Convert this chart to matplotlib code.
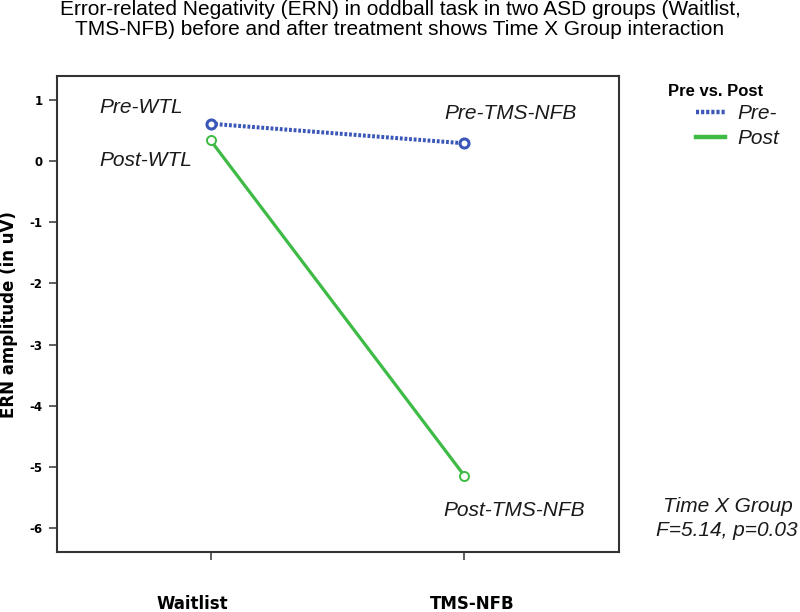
import matplotlib.pyplot as plt
from matplotlib.transforms import blended_transform_factory

# ERN amplitude means
groups = ['Waitlist', 'TMS-NFB']
pre_vals = [0.61, 0.29]
post_vals = [0.34, -5.14]
series_labels = ['Pre-', 'Post']
yticks = [-6, -5, -4, -3, -2, -1, 0, 1]

title_lines = ['Error-related Negativity (ERN) in oddball task in two ASD groups (Waitlist,',
               'TMS-NFB) before and after treatment shows Time X Group interaction']

BLUE = '#3a56b8'
GREEN = '#3dbb45'
INK = '#1a1a1a'

plt.rcParams['font.family'] = ['Liberation Sans', 'DejaVu Sans']

fig = plt.figure(figsize=(8, 6.12), dpi=100)
ax = fig.add_axes([57 / 800, 1 - 552 / 612, (619 - 57) / 800, (552 - 76) / 612])

xs = list(range(len(groups)))
ax.plot(xs, pre_vals, color=BLUE, lw=2.9, linestyle=(0, (0.7, 0.45)),
        marker='o', ms=6.5, mfc='white', mec=BLUE, mew=2.2, label=series_labels[0])
ax.plot(xs, post_vals, color=GREEN, lw=2.3, linestyle='-',
        marker='o', ms=6.5, mfc='white', mec=GREEN, mew=1.4, label=series_labels[1])

ax.set_xlim(-0.605, 1.61)
ax.set_ylim(-6.39, 1.39)
ax.set_xticks(xs)
ax.set_xticklabels([])
ax.set_yticks(yticks)
ax.set_yticklabels([str(v) for v in yticks], fontfamily='DejaVu Sans', fontweight='bold', fontsize=8.5)
ax.tick_params(axis='both', direction='out', length=6, width=1.1, color='#333333', pad=4.3)
for sp in ax.spines.values():
    sp.set_color('#333333')
    sp.set_linewidth(1.5)

# group labels sit well below the axis
trans = blended_transform_factory(ax.transData, fig.transFigure)
label_x = [-0.07, 1.03]
for x, g in zip(label_x, groups):
    ax.text(x, 1 - 609 / 612, g, transform=trans, ha='center', va='baseline',
            fontfamily='DejaVu Sans', fontweight='bold', fontsize=12, clip_on=False)

# point annotations
ital = dict(fontsize=15, style='italic', color=INK, va='baseline')
ax.text(-0.44, 0.79, 'Pre-WTL', **ital)
ax.text(-0.44, -0.077, 'Post-WTL', **ital)
ax.text(0.92, 0.69, 'Pre-TMS-NFB', **ital)
ax.text(0.917, -5.80, 'Post-TMS-NFB', **ital)

fig.text(793 / 800, 1 - 512 / 612, 'Time X Group', ha='right', **ital)
fig.text(798 / 800, 1 - 536 / 612, 'F=5.14, p=0.03', ha='right', **ital)

fig.text(9 / 800, 1 - 315 / 612, 'ERN amplitude (in uV)', rotation=90, ha='center', va='center',
         fontfamily='DejaVu Sans', fontweight='bold', fontsize=12)

fig.text(400 / 800, 1 - 15 / 612, title_lines[0], ha='center', va='baseline', fontsize=15)
fig.text(400 / 800, 1 - 35 / 612, title_lines[1], ha='center', va='baseline', fontsize=15)

fig.text(668 / 800, 1 - 96 / 612, 'Pre vs. Post', ha='left', va='baseline', fontsize=12, fontweight='bold')
leg = ax.legend(loc='upper left', bbox_to_anchor=(696 / 800, 1 - 104 / 612),
                bbox_transform=fig.transFigure, frameon=False,
                handlelength=1.4, handletextpad=0.6, labelspacing=0.3,
                borderpad=0, borderaxespad=0, prop={'style': 'italic', 'size': 15})
for t in leg.get_texts():
    t.set_color(INK)
for h in leg.legend_handles:
    h.set_marker('')
    h.set_linewidth(3.2)

fig.savefig('out.png', dpi=100)
